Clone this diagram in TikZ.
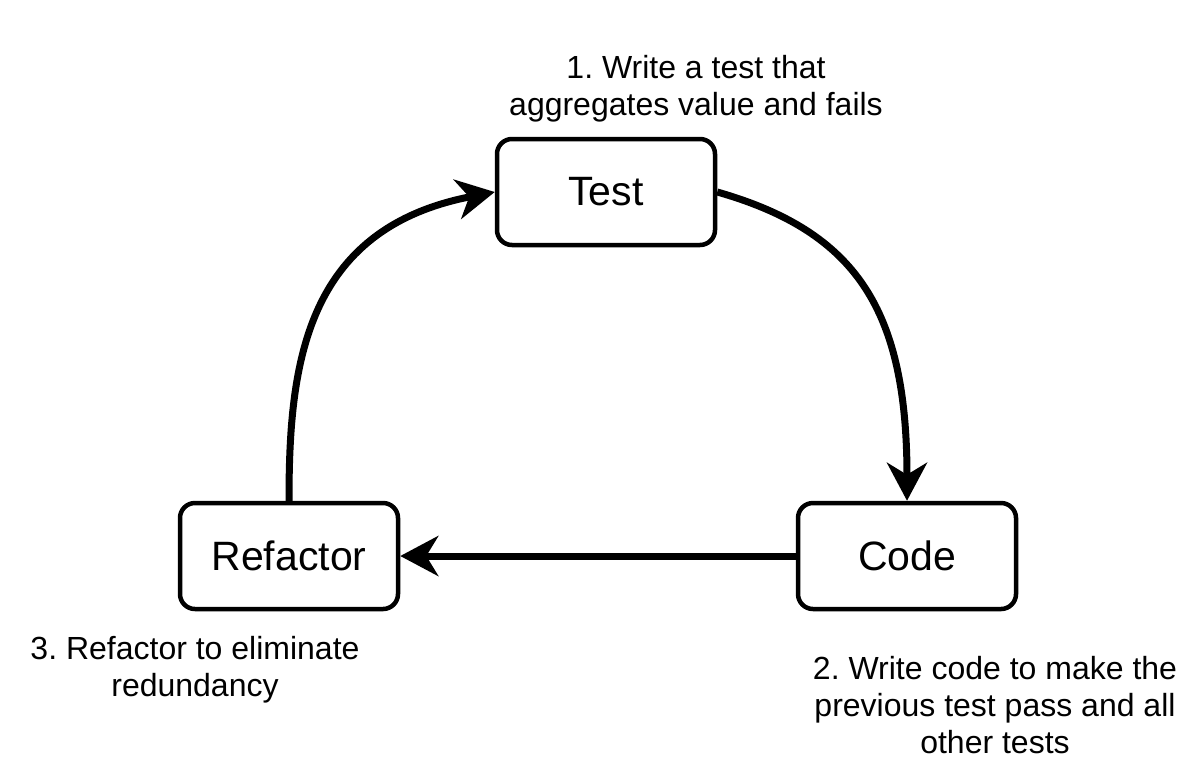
\documentclass[tikz,border=0pt]{standalone}
\usepackage{fontspec}
\setmainfont{Liberation Sans}
\frenchspacing
\usetikzlibrary{arrows.meta}
\begin{document}
\begin{tikzpicture}[x=1pt,y=-1pt,
  stage/.style={rectangle, rounded corners=15pt, draw=black, fill=white, line width=4.5pt,
    minimum width=218pt, minimum height=106pt, font=\fontsize{41}{49}\selectfont},
  note/.style={align=center, font=\fontsize{32}{37}\selectfont},
  flow/.style={line width=7pt, -{Stealth[length=38pt,width=40pt,inset=12pt]}}]
\useasboundingbox (0,0) rectangle (1198,780);
\node [stage] (test) at (606,192) {Test};
\node [stage] (code) at (907,556) {Code};
\node [stage] (refactor) at (289,556) {Refactor};
\node [note] (writetest) at (696,89) {1. Write a test that\\aggregates value and fails};
\node [note] (writecode) at (995,705) {2. Write code to make the\\previous test pass and all\\other tests};
\node [note] (cleanup) at (195,670) {3. Refactor to eliminate\\redundancy};
\draw [flow] (test.east) .. controls +(140,40) and +(0,-190) .. (code.north);
\draw [flow] (code.west) -- (refactor.east);
\draw [flow] (refactor.north) .. controls +(0,-134) and +(-191,37) .. (test.west);
\end{tikzpicture}
\end{document}
